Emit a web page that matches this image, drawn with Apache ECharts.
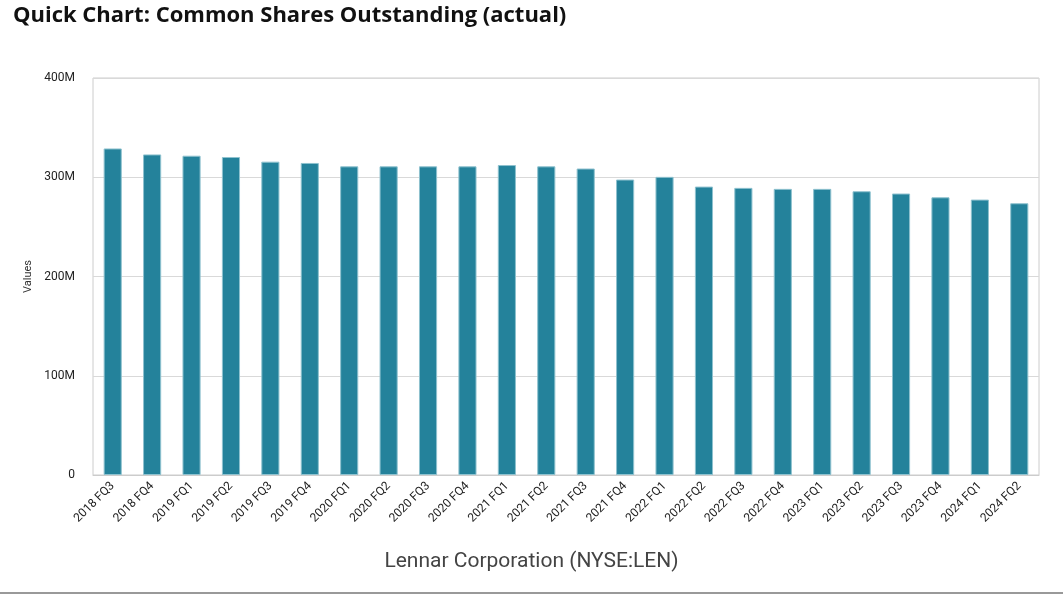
<!DOCTYPE html>
<html><head><meta charset="utf-8">
<script src="https://cdn.jsdelivr.net/npm/echarts@6/dist/echarts.min.js"></script>
<style>html,body{margin:0;padding:0;background:#fff}#c{width:1063px;height:595px}</style>
</head><body><div id="c"></div>
<script>
const categories = ["2018 FQ3","2018 FQ4","2019 FQ1","2019 FQ2","2019 FQ3","2019 FQ4","2020 FQ1","2020 FQ2","2020 FQ3","2020 FQ4","2021 FQ1","2021 FQ2","2021 FQ3","2021 FQ4","2022 FQ1","2022 FQ2","2022 FQ3","2022 FQ4","2023 FQ1","2023 FQ2","2023 FQ3","2023 FQ4","2024 FQ1","2024 FQ2"];
const values = [329, 323, 321.7, 320.4, 315.7, 314.4, 311, 311, 311, 311, 312.3, 311, 308.8, 297.7, 300.4, 290.6, 289.3, 288.3, 288.3, 285.9, 283.6, 279.8, 277.5, 273.8];
const yTicks = [0, 100, 200, 300, 400];

const chart = echarts.init(document.getElementById('c'));
chart.setOption({
  animation: false,
  title: [{
    text: 'Quick Chart: Common Shares Outstanding (actual)',
    left: 8, top: 0,
    textStyle: {fontFamily: 'Open Sans', fontWeight: 'bold', fontSize: 22, color: '#111'}
  }, {
    text: 'Lennar Corporation (NYSE:LEN)',
    left: 'center', top: 546,
    textStyle: {fontFamily: 'Roboto', fontWeight: 'normal', fontSize: 21, color: '#444'}
  }],
  grid: {left: 93, right: 24, top: 78, bottom: 120, show: true, borderColor: '#ccc', borderWidth: 1},
  xAxis: {
    type: 'category', data: categories,
    axisLine: {lineStyle: {color: '#ccc'}},
    axisTick: {show: false},
    axisLabel: {rotate: 45, fontFamily: 'Roboto', fontSize: 12, color: '#222', interval: 0, margin: 9}
  },
  yAxis: {
    type: 'value', min: 0, max: 400, interval: 100,
    name: 'Values', nameLocation: 'middle', nameGap: 57,
    nameTextStyle: {fontFamily: 'Roboto', fontSize: 11, color: '#333'},
    axisLine: {show: false}, axisTick: {show: false},
    splitLine: {lineStyle: {color: '#d9d9d9', width: 1}},
    axisLabel: {fontFamily: 'Roboto', fontSize: 12, color: '#222', margin: 18,
      formatter: v => yTicks.includes(v) ? (v === 0 ? '0' : v + 'M') : ''}
  },
  series: [{
    type: 'bar', data: values, barWidth: '46%',
    itemStyle: {color: '#24829b', borderColor: '#8fc2cf', borderWidth: 1}
  }],
  graphic: [{type: 'rect', shape: {x: 0, y: 592, width: 1063, height: 2}, style: {fill: '#999'}}]
});
</script></body></html>
